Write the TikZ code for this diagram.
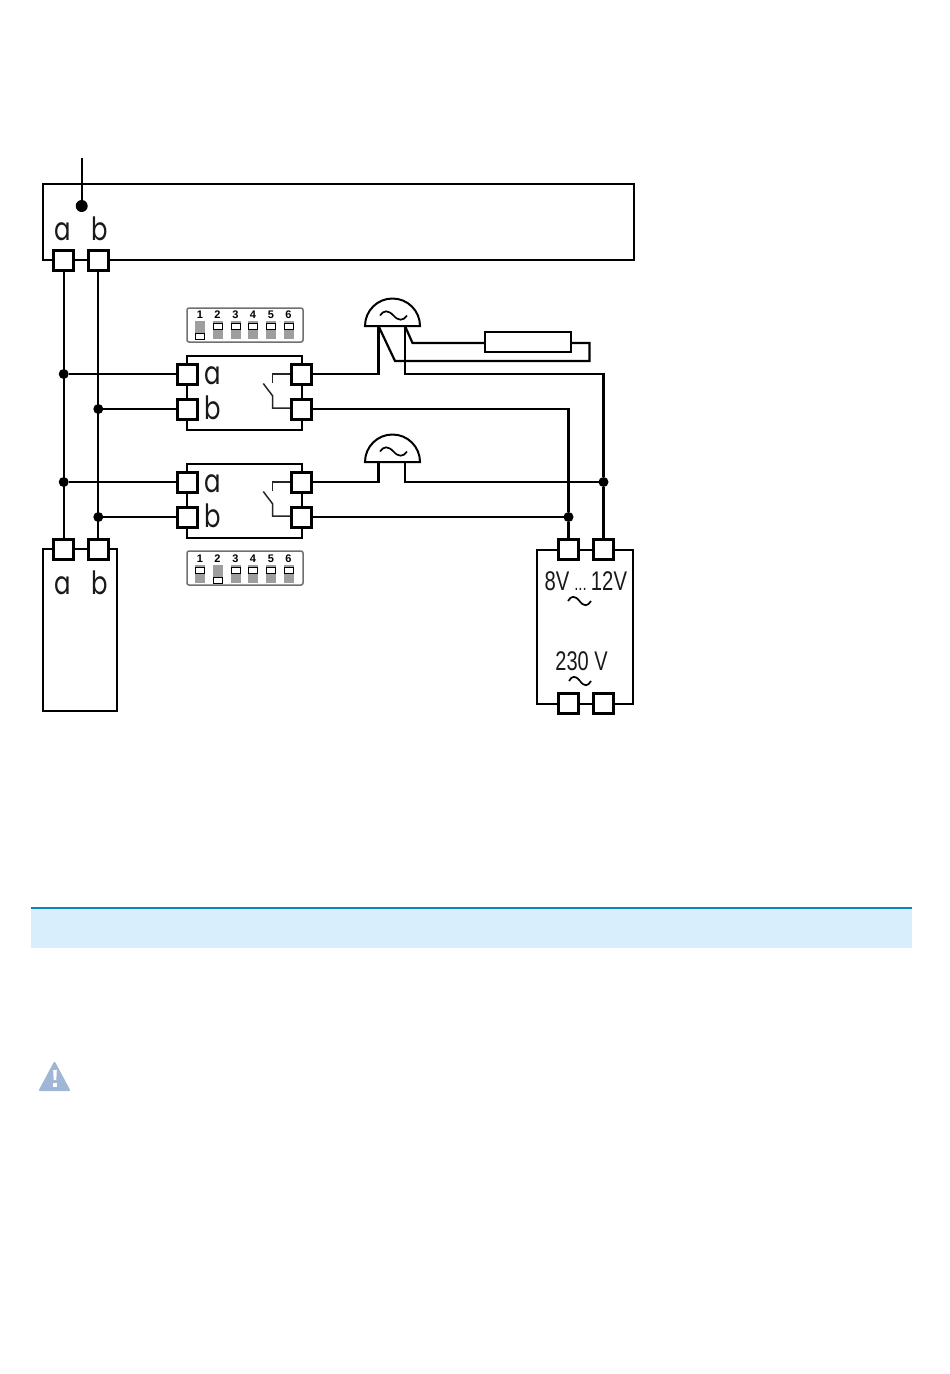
\documentclass[tikz,border=0pt]{standalone}
\usepackage{fontspec}
\setmainfont{Liberation Sans}
\newfontfamily\termfont{Poppins}
\definecolor{bandfill}{HTML}{D9EEFD}
\definecolor{bandline}{HTML}{0A84C0}
\definecolor{warnblue}{HTML}{9FB6D6}
\definecolor{dipgray}{HTML}{9E9E9E}
\definecolor{dipframe}{HTML}{707070}
\newcommand{\termtext}{\termfont\fontsize{32}{32}\selectfont}
\newcommand{\voltsize}{\fontsize{27}{27}\selectfont}
\newcommand{\dipnum}{\fontsize{11}{11}\selectfont\bfseries}
\newcommand{\sinewave}[4]{% x y width height
  \draw[tilde line] (#1,#2) .. controls ({#1+#3*0.14},{#2-#4*0.62}) and ({#1+#3*0.3},{#2-#4*0.62}) .. ({#1+#3*0.5},{#2})
    .. controls ({#1+#3*0.68},{#2+#4*0.62}) and ({#1+#3*0.86},{#2+#4*0.62}) .. ({#1+#3},{#2});}
\newcommand{\dipswitch}[4]{% x top-y name-state(0 top white,1 bottom white) number
  \node[dipslot] (sw#4#2) at (#1,{#2+9}) {};
  \ifnum#3=0
    \node[dipwin] (win#4#2) at (#1,{#2+5}) {};
  \else
    \node[dipwin] (win#4#2) at (#1,{#2+15}) {};
  \fi
  \node[font=\dipnum,inner sep=0pt] (num#4#2) at (#1,{#2-6}) {#4};}
\tikzset{
  wire/.style={draw=black,line width=2.2pt},
  tilde line/.style={draw=black,line width=1.7pt},
  thin wire/.style={draw=black!85,line width=1.5pt},
  term/.style={draw=black,fill=white,line width=3pt,minimum size=20pt,inner sep=0pt,shape=rectangle},
  dev/.style={draw=black,fill=white,line width=2pt,inner sep=0pt,shape=rectangle},
  jdot/.style={circle,fill=black,inner sep=0pt,outer sep=0pt,minimum size=10pt},
  lbl/.style={inner sep=0pt,font=\termtext,xscale=0.76,black!90},
  dipframebox/.style={draw=dipframe,fill=white,line width=1.5pt,rounded corners=2pt,minimum width=116pt,minimum height=34pt,inner sep=0pt},
  dipslot/.style={fill=dipgray,minimum width=10pt,minimum height=18pt,inner sep=0pt},
  dipwin/.style={draw=black,fill=white,line width=1pt,minimum width=9pt,minimum height=6pt,inner sep=0pt},
  lampdome/.style={draw=black,fill=white,line width=2pt,line join=miter},
}
\begin{document}
\begin{tikzpicture}[x=1pt,y=-1pt]
\useasboundingbox (0,0) rectangle (950,1374);
% --- band and warning
\fill[bandfill] (31,908) rectangle (912,948);
\draw[bandline,line width=1.5pt] (31,908) -- (912,908);
\fill[warnblue,draw=warnblue,line width=2pt,line join=round] (54.5,1063) -- (69,1090) -- (40,1090) -- cycle;
\fill[white] (53.2,1070) -- (56.8,1070) -- (56.3,1080) -- (53.7,1080) -- cycle;
\fill[white] (53.2,1083) rectangle (56.8,1087);
% --- device boxes
\node[dev,minimum width=591pt,minimum height=76pt] (panel) at (338.5,222) {};
\node[dev,minimum width=74pt,minimum height=162pt] (door) at (80,630) {};
\node[dev,minimum width=115pt,minimum height=74pt] (relayA) at (244.5,393) {};
\node[dev,minimum width=115pt,minimum height=74pt] (relayB) at (244.5,501) {};
\node[dev,minimum width=96pt,minimum height=154pt] (trafo) at (585,627) {};
\node[dev,minimum width=86pt,minimum height=20pt] (load) at (528,342) {};
% --- terminals
\node[term] (pa) at (63.7,260) {};
\node[term] (pb) at (98.3,260) {};
\node[term] (da) at (63.7,549) {};
\node[term] (db) at (98.3,549) {};
\node[term] (ra1) at (187,374) {};
\node[term] (rb1) at (187,409) {};
\node[term] (rc1) at (301.5,374) {};
\node[term] (rd1) at (301.5,409) {};
\node[term] (ra2) at (187,482) {};
\node[term] (rb2) at (187,517) {};
\node[term] (rc2) at (301.5,482) {};
\node[term] (rd2) at (301.5,517) {};
\node[term] (ta) at (568.5,549) {};
\node[term] (tb) at (603.5,549) {};
\node[term] (tc) at (568.5,703) {};
\node[term] (td) at (603.5,703) {};
% --- junctions
\node[jdot] (j1) at (63.7,374) {};
\node[jdot] (j2) at (98.3,409) {};
\node[jdot] (j3) at (63.7,482) {};
\node[jdot] (j4) at (98.3,517) {};
\node[jdot] (j5) at (603.5,482) {};
\node[jdot] (j6) at (568.5,517) {};
\node[jdot,minimum size=12pt] (feed) at (81.7,206) {};
\coordinate (feedtop) at (81.7,158);
% --- lamps
\draw[lampdome] (365,326) arc[start angle=180,end angle=360,radius=27.5] -- cycle;
\draw[lampdome] (365,462) arc[start angle=180,end angle=360,radius=27.5] -- cycle;
\sinewave{380}{315.5}{27}{9}
\sinewave{380}{451.5}{27}{9}
\coordinate (l1a) at (378.5,326);
\coordinate (l1b) at (405,326);
\coordinate (l2a) at (378.5,462);
\coordinate (l2b) at (405,462);
\coordinate (l1c) at (395,361);
\coordinate (l1d) at (412.5,343);
\coordinate (l1e) at (589.5,343);
% --- wires
\draw[wire] (feedtop) -- (feed);
\draw[wire] (pa) -- (da);
\draw[wire] (pb) -- (db);
\draw[wire] (j1) -- (ra1);
\draw[wire] (j2) -- (rb1);
\draw[wire] (j3) -- (ra2);
\draw[wire] (j4) -- (rb2);
\draw[wire] (rc1) -| (l1a);
\draw[wire] (l1a) -- (l1c) -| (l1e) -- (load.east |- l1e);
\draw[wire] (l1b) -- (l1d) -- (load.west |- l1d);
\draw[wire] (l1b) |- (603.5,374) -- (j5);
\draw[wire] (j5) -- (tb);
\draw[wire] (rd1) -| (j6);
\draw[wire] (j6) -- (ta);
\draw[wire] (rd2) -- (j6);
\draw[wire] (rc2) -| (l2a);
\draw[wire] (l2b) |- (j5);
% --- relay contacts
\draw[thin wire] (rc1.west) -- (272.7,374) -- (272.7,383);
\draw[thin wire] (263.3,383.5) -- (272.7,396) -- (272.7,408) -- (rd1.west |- 0,408);
\draw[thin wire] (rc2.west) -- (272.7,482) -- (272.7,491);
\draw[thin wire] (263.3,491.5) -- (272.7,504) -- (272.7,516) -- (rd2.west |- 0,516);
% --- labels
\node[lbl,anchor=base] (tpa) at (63,240) {a};
\node[lbl,anchor=base] (tpb) at (99.5,240) {b};
\node[lbl,anchor=base] (tda) at (63,594) {a};
\node[lbl,anchor=base] (tdb) at (99.5,594) {b};
\node[lbl,anchor=base] (t1a) at (212.5,384) {a};
\node[lbl,anchor=base] (t1b) at (212.5,419) {b};
\node[lbl,anchor=base] (t2a) at (212.5,492) {a};
\node[lbl,anchor=base] (t2b) at (212.5,527) {b};
\node[inner sep=0pt,anchor=base,font=\voltsize,xscale=0.75,black!90] (v8) at (557,590) {8V};
\node[inner sep=0pt,anchor=base,font=\voltsize,xscale=0.75,black!90] (vdots) at (580.5,590) {\fontsize{20}{20}\selectfont ...};
\node[inner sep=0pt,anchor=base,font=\voltsize,xscale=0.75,black!90] (v12) at (609,590) {12V};
\node[inner sep=0pt,anchor=base,font=\voltsize,xscale=0.74,black!90] (v230) at (581.5,670) {230 V};
\sinewave{568}{601}{23}{9}
\sinewave{569}{681}{22}{9}
% --- DIP switches
\node[dipframebox] (dipA) at (245,325) {};
\foreach \px/\n in {200/1,217.5/2,235.5/3,253/4,271/5,288.5/6}{
  \pgfmathtruncatemacro{\st}{\n==1 ? 1 : 0}
  \dipswitch{\px}{321}{\st}{\n}
}
\node[dipframebox] (dipB) at (245,568) {};
\foreach \px/\n in {200/1,217.5/2,235.5/3,253/4,271/5,288.5/6}{
  \pgfmathtruncatemacro{\st}{\n==2 ? 1 : 0}
  \dipswitch{\px}{565}{\st}{\n}
}
\end{tikzpicture}
\end{document}
